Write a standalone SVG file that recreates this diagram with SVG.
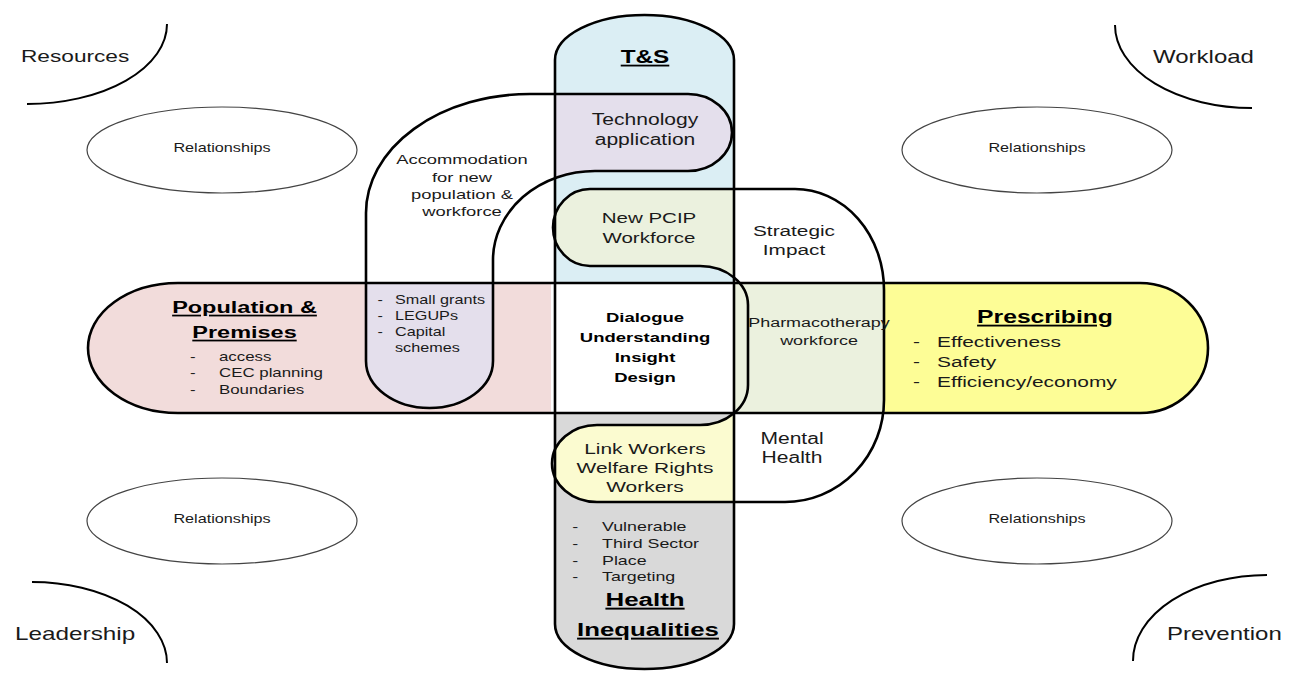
<svg xmlns="http://www.w3.org/2000/svg" width="1301" height="675" viewBox="0 0 1301 675">
<defs>
<style>
.t{font-family:"Liberation Sans",Arial,sans-serif;fill:#1a1a1a}
.b{font-weight:bold;fill:#000}
.u{text-decoration:underline}
.m{text-anchor:middle}
.ln{fill:none;stroke:#000;stroke-width:2.6;stroke-linejoin:round}
.rel{fill:#fff;stroke:#444;stroke-width:1.2}
.arc{fill:none;stroke:#000;stroke-width:2}
</style>
<path id="hpill" d="M178,283 L1140,283 A68,65 0 0 1 1140,413 L178,413 A90,65 0 0 1 178,283 Z"/>
<path id="vpill" d="M555,60 A89.5,45 0 0 1 734,60 L734,624 A89.5,45 0 0 1 555,624 Z"/>
<path id="loopA" d="M530,94 L688,94 A44,38.5 0 0 1 688,171 L595,171 A102,89 0 0 0 493,260 L493,361 A63.5,47 0 0 1 366,361 L366,213 A164,119 0 0 1 530,94 Z"/>
<path id="loopB" d="M590,189 L795,189 A89,101 0 0 1 884,290 L884,400 A99,102 0 0 1 785,502 L597,502 A45,38.5 0 0 1 597,425 L700,425 A48,40 0 0 0 748,385 L748,305 A48,39 0 0 0 700,266 L590,266 A37,38.5 0 0 1 590,189 Z"/>
<clipPath id="cH"><use href="#hpill"/></clipPath>
<clipPath id="cV"><use href="#vpill"/></clipPath>
<clipPath id="cTop"><rect x="555" y="0" width="179" height="282"/></clipPath>
<clipPath id="cBot"><rect x="555" y="413" width="179" height="262"/></clipPath>
<clipPath id="cPink"><rect x="88" y="284" width="463" height="128"/></clipPath>
</defs>
<rect x="0" y="0" width="1301" height="675" fill="#fff"/>

<g id="node-resources">
<path class="arc" d="M167,24 A140,80 0 0 1 27,104"/>
<g transform="translate(21,0) scale(1.35,1)"><text class="t" x="0" y="62" font-size="16.8">Resources</text></g>
</g>
<g id="node-workload">
<path class="arc" d="M1115,25 A137,83 0 0 0 1252,108"/>
<g transform="translate(1153,0) scale(1.35,1)"><text class="t" x="0" y="63" font-size="17.8">Workload</text></g>
</g>
<g id="node-leadership">
<path class="arc" d="M32,582 A135,81 0 0 1 167,663"/>
<g transform="translate(15,0) scale(1.35,1)"><text class="t" x="0" y="640" font-size="18">Leadership</text></g>
</g>
<g id="node-prevention">
<path class="arc" d="M1267,575 A134,86 0 0 0 1133,661"/>
<g transform="translate(1167,0) scale(1.35,1)"><text class="t" x="0" y="640" font-size="17.8">Prevention</text></g>
</g>

<g id="node-relationships-tl">
<ellipse class="rel" cx="222" cy="150" rx="135" ry="43"/>
<g transform="translate(222,0) scale(1.35,1)"><text class="t m" x="0" y="152" font-size="12">Relationships</text></g>
</g>
<g id="node-relationships-tr">
<ellipse class="rel" cx="1037" cy="150" rx="135" ry="43"/>
<g transform="translate(1037,0) scale(1.35,1)"><text class="t m" x="0" y="152" font-size="12">Relationships</text></g>
</g>
<g id="node-relationships-bl">
<ellipse class="rel" cx="222" cy="521" rx="135" ry="43"/>
<g transform="translate(222,0) scale(1.35,1)"><text class="t m" x="0" y="523" font-size="12">Relationships</text></g>
</g>
<g id="node-relationships-br">
<ellipse class="rel" cx="1037" cy="521" rx="135" ry="43"/>
<g transform="translate(1037,0) scale(1.35,1)"><text class="t m" x="0" y="523" font-size="12">Relationships</text></g>
</g>

<g id="node-horizontal-band">
<g clip-path="url(#cH)">
<rect x="0" y="270" width="551" height="150" fill="#f2dcdb"/>
<rect x="551" y="270" width="183" height="150" fill="#fff"/>
<rect x="734" y="270" width="151" height="150" fill="#ebf1de"/>
<rect x="885" y="270" width="330" height="150" fill="#fdfd96"/>
</g>
</g>
<g id="node-vertical-band">
<g clip-path="url(#cV)">
<rect x="540" y="0" width="210" height="283" fill="#dbeef4"/>
<rect x="540" y="283" width="210" height="130" fill="#fff"/>
<rect x="540" y="413" width="210" height="262" fill="#d9d9d9"/>
</g>
</g>
<g id="node-accommodation-loop">
<use href="#loopA" fill="#e4dfec" clip-path="url(#cTop)"/>
<use href="#loopA" fill="#e4dfec" clip-path="url(#cPink)"/>
</g>
<g id="node-workforce-loop">
<use href="#loopB" fill="#ebf1de" clip-path="url(#cTop)"/>
<use href="#loopB" fill="#fbfbd0" clip-path="url(#cBot)"/>
</g>

<g id="outlines">
<use href="#hpill" class="ln"/>
<use href="#vpill" class="ln"/>
<use href="#loopA" class="ln"/>
<use href="#loopB" class="ln"/>
</g>

<g id="labels">
<g id="label-ts" transform="translate(645,0) scale(1.35,1)"><text class="t b u m" x="0" y="63" font-size="18">T&amp;S</text></g>
<g id="label-tech" transform="translate(645,0) scale(1.35,1)">
<text class="t m" x="0" y="125" font-size="15.6">Technology</text>
<text class="t m" x="0" y="145" font-size="15.6">application</text>
</g>
<g id="label-accommodation" transform="translate(462,0) scale(1.35,1)">
<text class="t m" x="0" y="164" font-size="13.6">Accommodation</text>
<text class="t m" x="0" y="182" font-size="13.6">for new</text>
<text class="t m" x="0" y="199" font-size="13.6">population &amp;</text>
<text class="t m" x="0" y="216" font-size="13.6">workforce</text>
</g>
<g id="label-pcip" transform="translate(649,0) scale(1.35,1)">
<text class="t m" x="0" y="223" font-size="15.2">New PCIP</text>
<text class="t m" x="0" y="243" font-size="15.2">Workforce</text>
</g>
<g id="label-strategic" transform="translate(794,0) scale(1.35,1)">
<text class="t m" x="0" y="236" font-size="15.4">Strategic</text>
<text class="t m" x="0" y="255" font-size="15.4">Impact</text>
</g>
<g id="label-population" transform="translate(244.5,0) scale(1.35,1)">
<text class="t b u m" x="0" y="313" font-size="17.4">Population &amp;</text>
<text class="t b u m" x="0" y="338" font-size="17.4">Premises</text>
</g>
<g id="label-pop-list" transform="translate(219,0) scale(1.35,1)">
<text class="t" x="-21.5" y="361" font-size="12.5">-</text><text class="t" x="0" y="361" font-size="12.5">access</text>
<text class="t" x="-21.5" y="377" font-size="12.5">-</text><text class="t" x="0" y="377" font-size="12.5">CEC planning</text>
<text class="t" x="-21.5" y="394" font-size="12.5">-</text><text class="t" x="0" y="394" font-size="12.5">Boundaries</text>
</g>
<g id="label-grants" transform="translate(395,0) scale(1.35,1)">
<text class="t" x="-13" y="304" font-size="12">-</text><text class="t" x="0" y="304" font-size="12">Small grants</text>
<text class="t" x="-13" y="320" font-size="12">-</text><text class="t" x="0" y="320" font-size="12">LEGUPs</text>
<text class="t" x="-13" y="336" font-size="12">-</text><text class="t" x="0" y="336" font-size="12">Capital</text>
<text class="t" x="0" y="352" font-size="12">schemes</text>
</g>
<g id="label-dialogue" transform="translate(645,0) scale(1.35,1)">
<text class="t b m" x="0" y="322" font-size="13.7">Dialogue</text>
<text class="t b m" x="0" y="342" font-size="13.7">Understanding</text>
<text class="t b m" x="0" y="362" font-size="13.7">Insight</text>
<text class="t b m" x="0" y="382" font-size="13.7">Design</text>
</g>
<g id="label-pharma" transform="translate(819,0) scale(1.35,1)">
<text class="t m" x="0" y="327" font-size="13.3">Pharmacotherapy</text>
<text class="t m" x="0" y="345" font-size="13.3">workforce</text>
</g>
<g id="label-prescribing" transform="translate(1045,0) scale(1.35,1)">
<text class="t b u m" x="0" y="323" font-size="18.3">Prescribing</text>
</g>
<g id="label-presc-list" transform="translate(937,0) scale(1.35,1)">
<text class="t" x="-17.8" y="347" font-size="15.5">-</text><text class="t" x="0" y="347" font-size="15.5">Effectiveness</text>
<text class="t" x="-17.8" y="367" font-size="15.5">-</text><text class="t" x="0" y="367" font-size="15.5">Safety</text>
<text class="t" x="-17.8" y="387" font-size="15.5">-</text><text class="t" x="0" y="387" font-size="15.5">Efficiency/economy</text>
</g>
<g id="label-mental" transform="translate(792,0) scale(1.35,1)">
<text class="t m" x="0" y="444" font-size="15.6">Mental</text>
<text class="t m" x="0" y="463" font-size="15.6">Health</text>
</g>
<g id="label-link" transform="translate(645,0) scale(1.35,1)">
<text class="t m" x="0" y="454" font-size="15.5">Link Workers</text>
<text class="t m" x="0" y="473" font-size="15.5">Welfare Rights</text>
<text class="t m" x="0" y="492" font-size="15.5">Workers</text>
</g>
<g id="label-hi-list" transform="translate(602,0) scale(1.35,1)">
<text class="t" x="-22" y="531" font-size="13.2">-</text><text class="t" x="0" y="531" font-size="13.2">Vulnerable</text>
<text class="t" x="-22" y="548" font-size="13.2">-</text><text class="t" x="0" y="548" font-size="13.2">Third Sector</text>
<text class="t" x="-22" y="565" font-size="13.2">-</text><text class="t" x="0" y="565" font-size="13.2">Place</text>
<text class="t" x="-22" y="581" font-size="13.2">-</text><text class="t" x="0" y="581" font-size="13.2">Targeting</text>
</g>
<g id="label-health" transform="translate(645,0) scale(1.35,1)">
<text class="t b u m" x="0" y="606" font-size="19.2">Health</text>
</g>
<g id="label-inequalities" transform="translate(648,0) scale(1.35,1)">
<text class="t b u m" x="0" y="636" font-size="19.1">Inequalities</text>
</g>
</g>
</svg>
